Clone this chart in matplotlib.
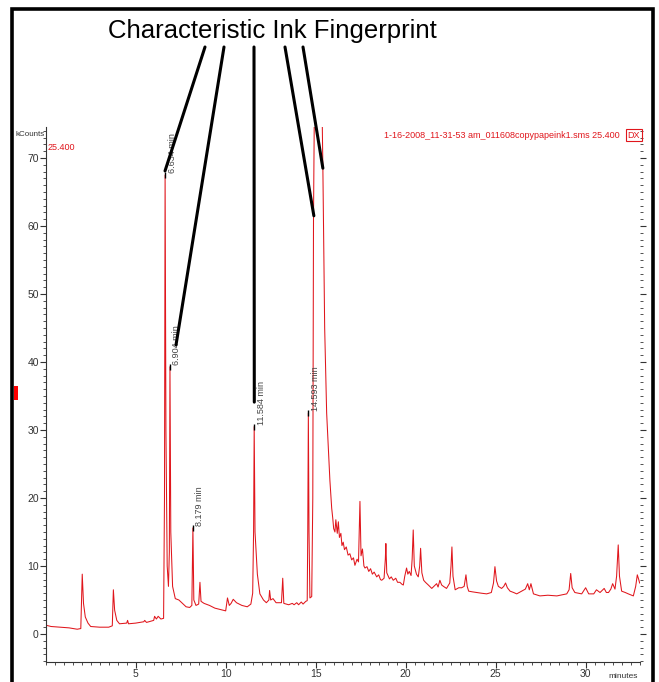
import matplotlib
matplotlib.use("Agg")
import matplotlib.pyplot as plt
from matplotlib.patches import Rectangle
from matplotlib.ticker import MultipleLocator

plt.rcParams['font.family'] = ['Liberation Sans Narrow', 'Liberation Sans', 'DejaVu Sans']

# chromatogram trace (minutes, kCounts)
rt = [0.00, 0.30, 0.80, 1.30, 1.75, 1.95, 2.03, 2.10, 2.20, 2.35, 2.50, 3.00, 3.50, 3.70, 3.76,
      3.83, 3.95, 4.10, 4.50, 4.55, 4.60, 5.00, 5.45, 5.50, 5.60, 6.00, 6.05, 6.15, 6.25, 6.40,
      6.55, 6.60, 6.634, 6.68, 6.75, 6.82, 6.87, 6.904, 6.95, 7.05, 7.20, 7.40, 7.60, 7.80, 8.00,
      8.12, 8.179, 8.23, 8.35, 8.50, 8.57, 8.63, 8.80, 9.10, 9.40, 9.70, 10.00, 10.10, 10.20, 10.30,
      10.42, 10.60, 10.90, 11.20, 11.40, 11.50, 11.55, 11.584, 11.63, 11.76, 11.90, 12.10, 12.26,
      12.40, 12.44, 12.50, 12.63, 12.80, 13.10, 13.17, 13.23, 13.50, 13.70, 13.80, 13.95, 14.05,
      14.20, 14.30, 14.45, 14.53, 14.56, 14.593, 14.63, 14.68, 14.78, 14.84, 14.88, 14.95, 15.10,
      15.30, 15.40, 15.50, 15.61, 15.70, 15.79, 15.89, 15.95, 16.00, 16.07, 16.12, 16.20, 16.26,
      16.32, 16.40, 16.46, 16.53, 16.60, 16.70, 16.80, 16.90, 17.00, 17.10, 17.18, 17.30, 17.38,
      17.46, 17.52, 17.60, 17.68, 17.74, 17.85, 17.95, 18.05, 18.15, 18.25, 18.39, 18.50, 18.60,
      18.67, 18.80, 18.87, 18.90, 18.95, 19.10, 19.20, 19.31, 19.45, 19.55, 19.68, 19.80, 19.87,
      19.95, 20.05, 20.12, 20.20, 20.30, 20.36, 20.42, 20.48, 20.60, 20.70, 20.78, 20.83, 20.90,
      21.00, 21.10, 21.26, 21.45, 21.60, 21.72, 21.80, 21.90, 22.00, 22.10, 22.27, 22.45, 22.52,
      22.57, 22.63, 22.75, 22.95, 23.11, 23.25, 23.35, 23.42, 23.50, 23.70, 23.94, 24.20, 24.50,
      24.76, 24.88, 24.96, 25.05, 25.15, 25.33, 25.45, 25.55, 25.65, 25.80, 26.00, 26.17, 26.45,
      26.65, 26.78, 26.87, 26.96, 27.10, 27.46, 27.90, 28.40, 28.95, 29.08, 29.17, 29.25, 29.40,
      29.78, 30.00, 30.17, 30.45, 30.60, 30.80, 31.03, 31.15, 31.27, 31.40, 31.50, 31.63, 31.72,
      31.81, 31.88, 32.00, 32.20, 32.37, 32.65, 32.78, 32.87, 32.95, 33.00]
counts = [1.3, 1.1, 1.0, 0.9, 0.7, 0.8, 8.8, 4.5, 2.5, 1.6, 1.1, 1.0, 1.0, 1.2, 6.5,
          3.5, 2.0, 1.5, 1.6, 2.0, 1.5, 1.6, 1.8, 2.0, 1.7, 2.0, 2.6, 2.2, 2.6, 2.2,
          2.3, 20.0, 67.5, 30.0, 10.0, 7.0, 12.0, 39.3, 15.0, 7.0, 5.2, 5.0, 4.5, 4.0, 3.9,
          4.2, 15.6, 5.0, 4.2, 4.4, 7.6, 4.8, 4.5, 4.2, 3.8, 3.6, 3.4, 5.3, 4.2, 4.5,
          5.1, 4.6, 4.2, 4.0, 4.4, 6.0, 15.0, 30.5, 15.0, 8.8, 5.9, 5.0, 4.6,
          5.0, 6.4, 5.0, 5.2, 4.6, 4.6, 8.2, 4.5, 4.3, 4.5, 4.3, 4.6, 4.3,
          4.7, 4.4, 4.8, 4.9, 15.0, 32.5, 15.0, 5.3, 5.5, 20.0, 61.5, 85.0, 100.0,
          88.0, 68.5, 45.0, 32.5, 27.5, 22.6, 18.5, 17.0, 15.5, 15.0, 16.8, 14.8, 16.5,
          14.2, 14.8, 13.0, 13.5, 12.4, 12.8, 11.6, 11.8, 10.9, 11.2, 10.1, 11.0, 10.6,
          19.5, 11.5, 12.5, 10.0, 9.7, 9.9, 9.2, 9.6, 8.8, 9.1, 8.4, 8.7, 8.0,
          7.9, 8.2, 11.0, 13.3, 9.0, 8.1, 8.4, 7.9, 8.2, 7.6, 7.6, 7.3, 7.2,
          8.5, 9.7, 8.8, 9.2, 8.6, 11.0, 15.3, 10.0, 8.8, 8.4, 10.0, 12.6, 9.0,
          7.9, 7.6, 7.2, 6.7, 7.1, 7.4, 6.9, 7.9, 7.2, 7.0, 6.7, 7.5, 10.0,
          12.8, 8.5, 6.5, 6.8, 6.8, 7.0, 8.7, 7.0, 6.3, 6.2, 6.1, 6.0, 5.9,
          6.1, 7.5, 9.9, 7.8, 7.0, 6.7, 7.0, 7.5, 6.8, 6.3, 6.1, 5.9, 6.3,
          6.6, 7.4, 6.5, 7.4, 5.9, 5.6, 5.7, 5.6, 5.9, 6.5, 8.9, 6.8, 6.1,
          5.9, 6.8, 5.9, 5.9, 6.5, 6.1, 6.7, 6.1, 6.1, 6.6, 7.4, 6.6, 8.5,
          13.1, 8.5, 6.3, 6.1, 5.9, 5.6, 7.0, 8.7, 8.0, 7.5]

# labelled peaks
peak_rt = [6.634, 6.904, 8.179, 11.584, 14.593]
peak_counts = [67.5, 39.3, 15.6, 30.5, 32.5]
peak_labels = ["6.634 min", "6.904 min", "8.179 min", "11.584 min", "14.593 min"]

# annotation pointers: where each black line ends (data) and starts (figure px)
pointer_rt = [6.63, 7.24, 11.59, 14.90, 15.40]
pointer_counts = [68.1, 42.5, 34.1, 61.5, 68.5]
pointer_start_px = [205, 224, 254, 285, 303]

W, H = 659, 682
fig = plt.figure(figsize=(W / 100, H / 100), dpi=100)
ax = fig.add_axes([45.7 / W, 20 / H, (640 - 45.7) / W, (662 - 127) / H])

red = '#e0161c'
ax.plot(rt, counts, color=red, lw=0.75)
ax.plot(peak_rt, peak_counts, ls='none', marker='|', ms=4, mew=1.0, color='black')
for t, c, lab in zip(peak_rt, peak_counts, peak_labels):
    ax.text(t + 0.14, c + 0.3, lab, rotation=90, ha='left', va='bottom',
            fontsize=6.5, color='#444444', family=['Liberation Sans', 'DejaVu Sans'])

ax.set_xlim(0, 33.02)
ax.set_ylim(-4.12, 74.56)
ax.set_xticks([5, 10, 15, 20, 25, 30])
ax.set_yticks([0, 10, 20, 30, 40, 50, 60, 70])
ax.xaxis.set_minor_locator(MultipleLocator(0.5))
ax.yaxis.set_minor_locator(MultipleLocator(1))
ax.tick_params(which='major', direction='out', length=4, width=0.8, labelsize=7.5,
               colors='#333333', pad=1)
ax.tick_params(which='minor', direction='out', length=2, width=0.6, colors='#333333')
ax.tick_params(axis='y', which='both', right=True)
ax.spines['top'].set_visible(False)
ax.spines['right'].set_visible(False)
for s in ['left', 'bottom']:
    ax.spines[s].set_color('#333333')
    ax.spines[s].set_linewidth(0.8)

for t, c, px in zip(pointer_rt, pointer_counts, pointer_start_px):
    ax.annotate('', xy=(t, c), xycoords='data', xytext=(px, H - 47),
                textcoords='figure pixels',
                arrowprops=dict(arrowstyle='-', color='black', lw=2.2,
                                shrinkA=0, shrinkB=0))

fig.text(272 / W, 1 - 31 / H, "Characteristic Ink Fingerprint", ha='center', va='center',
         fontsize=18.5, family=['Liberation Sans', 'DejaVu Sans'], color='black')
fig.text(45 / W, 1 - 135 / H, "kCounts", ha='right', va='center', fontsize=5.8, color='#333333')
fig.text(48 / W, 1 - 147 / H, "25.400", ha='left', va='center', fontsize=6.5, color=red)
fig.text(620 / W, 1 - 135 / H, "1-16-2008_11-31-53 am_011608copypapeink1.sms 25.400",
         ha='right', va='center', fontsize=6.5, color=red)
fig.text(634 / W, 1 - 135 / H, "DX", ha='center', va='center', fontsize=6.5, color=red,
         bbox=dict(boxstyle='square,pad=0.15', fc='none', ec=red, lw=0.8))
fig.text(623 / W, 1 - 677 / H, "minutes", ha='center', va='center', fontsize=6, color='#333333')

# outer frame and the small red marker on the left edge
fig.add_artist(Rectangle((14 / W, 1 - 400 / H), 4 / W, 14 / H, transform=fig.transFigure,
                         color='#ff0000', lw=0))
fig.add_artist(Rectangle((12 / W, -0.05), (653 - 12) / W, 0.05 + 1 - 9 / H,
                         transform=fig.transFigure, fill=False, ec='black', lw=2.6))

fig.savefig("out.png", dpi=100)
